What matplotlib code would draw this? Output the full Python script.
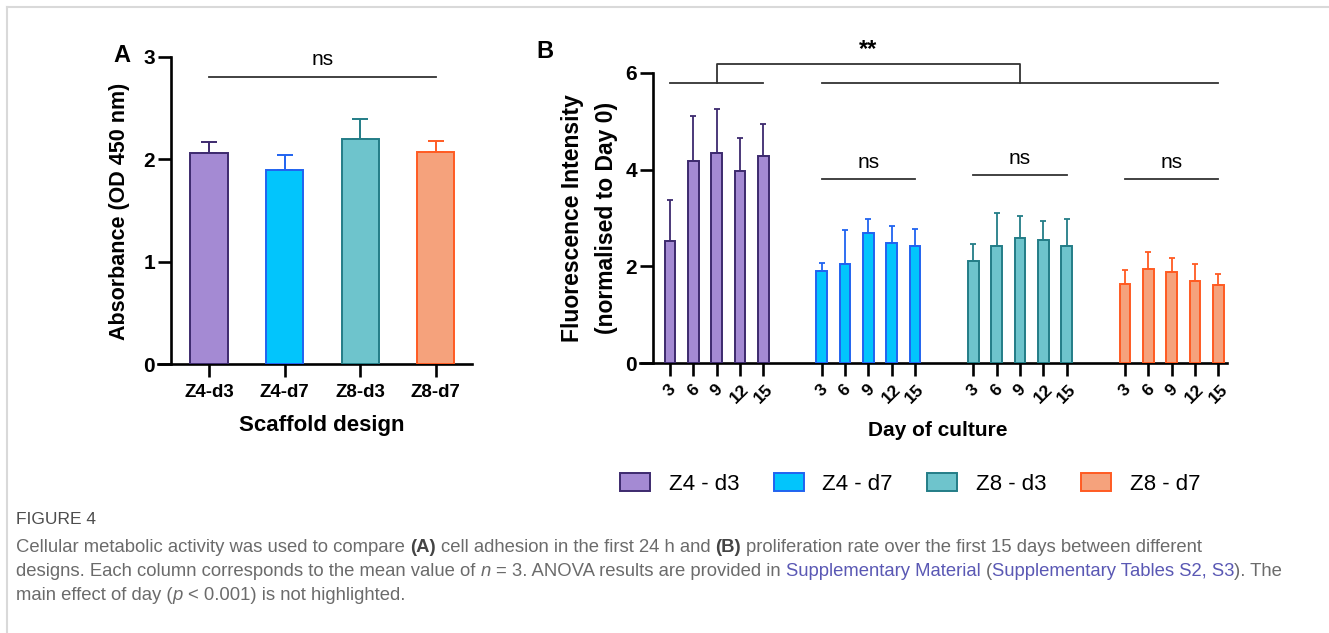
import matplotlib.pyplot as plt
from matplotlib.lines import Line2D

# ---- data ----
designs = ['Z4-d3', 'Z4-d7', 'Z8-d3', 'Z8-d7']
legend_labels = ['Z4 - d3', 'Z4 - d7', 'Z8 - d3', 'Z8 - d7']
fill_colors = ['#a48ad3', '#02c5fc', '#6ec4cc', '#f5a27c']
edge_colors = ['#3d2a6e', '#2063f0', '#237d87', '#ff5b22']

# panel A: absorbance (OD 450 nm)
adh_mean = [2.06, 1.90, 2.20, 2.07]
adh_sd = [0.11, 0.14, 0.19, 0.11]

# panel B: fluorescence intensity by day
days = [3, 6, 9, 12, 15]
z4d3_mean = [2.53, 4.17, 4.34, 3.97, 4.28]
z4d3_sd = [0.84, 0.93, 0.91, 0.68, 0.66]
z4d7_mean = [1.91, 2.05, 2.69, 2.48, 2.43]
z4d7_sd = [0.17, 0.70, 0.28, 0.36, 0.34]
z8d3_mean = [2.12, 2.42, 2.58, 2.55, 2.42]
z8d3_sd = [0.35, 0.68, 0.47, 0.38, 0.55]
z8d7_mean = [1.64, 1.95, 1.89, 1.69, 1.61]
z8d7_sd = [0.29, 0.34, 0.29, 0.36, 0.24]
prolif_means = [z4d3_mean, z4d7_mean, z8d3_mean, z8d7_mean]
prolif_sds = [z4d3_sd, z4d7_sd, z8d3_sd, z8d7_sd]

W, H = 1329, 633
fig = plt.figure(figsize=(W / 100, H / 100), dpi=100)
plt.rcParams['font.family'] = ['Liberation Sans', 'DejaVu Sans']


def fx(x):
    return x / W


def fy(y):
    return 1 - y / H


def px_axes(l, t, r, b):
    return fig.add_axes([fx(l), fy(b), (r - l) / W, (b - t) / H])


def style_axes(ax, yspine_x):
    for s in ['top', 'right']:
        ax.spines[s].set_visible(False)
    ax.spines['left'].set_position(('data', yspine_x))
    ax.spines['left'].set_linewidth(1.9)
    ax.spines['bottom'].set_linewidth(1.9)
    ax.tick_params(direction='out', length=9.5, width=1.9, color='black')
    ax.tick_params(axis='y', labelsize=15, pad=2)
    for lab in ax.get_yticklabels():
        lab.set_fontweight('bold')


# ---- panel A ----
axA = px_axes(158, 57, 472, 364)
xa = list(range(len(designs)))
axA.bar(xa, adh_mean, width=0.49, color=fill_colors, edgecolor=edge_colors,
        linewidth=1.4, zorder=3)
for i in xa:
    axA.errorbar(xa[i], adh_mean[i], yerr=[[0], [adh_sd[i]]], fmt='none',
                 ecolor=edge_colors[i], elinewidth=1.4, capsize=5.5,
                 capthick=1.4, zorder=2)
axA.set_xlim(-0.675, 3.48)
axA.set_ylim(0, 3)
axA.set_yticks([0, 1, 2, 3])
axA.set_xticks(xa)
axA.set_xticklabels(designs, fontsize=13.5, fontweight='bold')
axA.tick_params(axis='x', pad=5)
style_axes(axA, -0.503)
axA.spines['left'].set_bounds(0, 3)
axA.plot([0, 3], [2.80, 2.80], color='#333333', lw=1.3, clip_on=False)
axA.text(1.5, 2.88, 'ns', ha='center', va='bottom', fontsize=15)

fig.text(fx(120), fy(211), 'Absorbance (OD 450 nm)', rotation=90,
         ha='center', va='center', fontsize=15.5, fontweight='bold')
fig.text(fx(322), fy(425), 'Scaffold design', ha='center', va='center',
         fontsize=16, fontweight='bold')
fig.text(fx(122), fy(55), 'A', ha='center', va='center', fontsize=17,
         fontweight='bold')

# ---- panel B ----
axB = px_axes(640, 72.7, 1226.7, 363.3)
gap = 6.5
handles = []
all_x = []
for g in range(4):
    xs = [g * gap + i for i in range(len(days))]
    all_x += xs
    b = axB.bar(xs, prolif_means[g], width=0.46, color=fill_colors[g],
                edgecolor=edge_colors[g], linewidth=1.4, zorder=3,
                label=legend_labels[g])
    handles.append(b)
    axB.errorbar(xs, prolif_means[g],
                 yerr=[[0] * len(days), prolif_sds[g]], fmt='none',
                 ecolor=edge_colors[g], elinewidth=1.3, capsize=2.5,
                 capthick=1.3, zorder=2)
axB.set_xlim(-1.29, 23.86)
axB.set_ylim(0, 6)
axB.set_yticks([0, 2, 4, 6])
axB.set_xticks(all_x)
axB.set_xticklabels([str(d) for d in days] * 4, rotation=45, ha='center',
                    fontsize=12.5, fontweight='bold')
axB.tick_params(axis='x', pad=4)
style_axes(axB, -0.74)
axB.spines['left'].set_bounds(0, 6)

# significance marks
lc = '#333333'
last = 3 * gap + 4
axB.plot([0, 4], [5.78, 5.78], color=lc, lw=1.3, clip_on=False)
axB.plot([gap, last], [5.78, 5.78], color=lc, lw=1.3, clip_on=False)
mid1 = 2
mid2 = (gap + last) / 2
axB.plot([mid1, mid1, mid2, mid2], [5.78, 6.18, 6.18, 5.78], color=lc,
         lw=1.3, clip_on=False)
axB.text((mid1 + mid2) / 2, 6.24, '**', ha='center', va='bottom',
         fontsize=17, fontweight='bold')
for g, yy in zip([1, 2, 3], [3.81, 3.88, 3.81]):
    x0 = g * gap
    axB.plot([x0, x0 + 4], [yy, yy], color=lc, lw=1.3, clip_on=False)
    axB.text(x0 + 2, yy + 0.15, 'ns', ha='center', va='bottom', fontsize=15)

fig.text(fx(573), fy(218), 'Fluorescence Intensity', rotation=90,
         ha='center', va='center', fontsize=16.5, fontweight='bold')
fig.text(fx(606), fy(218), '(normalised to Day 0)', rotation=90,
         ha='center', va='center', fontsize=16.5, fontweight='bold')
fig.text(fx(938), fy(430), 'Day of culture', ha='center', va='center',
         fontsize=15, fontweight='bold')
fig.text(fx(545), fy(52), 'B', ha='center', va='center', fontsize=17,
         fontweight='bold')

fig.legend(handles, legend_labels, loc='center',
           bbox_to_anchor=(fx(910), fy(484)), ncol=4, frameon=False,
           prop={'size': 16},
           handlelength=1.35, handleheight=0.85, handletextpad=0.84,
           columnspacing=1.55)

# ---- frame + caption ----
fig.add_artist(Line2D([fx(7), 1], [fy(7), fy(7)], color='#d9d9d9', lw=1.5))
fig.add_artist(Line2D([fx(7), fx(7)], [fy(7), 0], color='#d9d9d9', lw=1.5))

gray = '#6b6b6b'
link = '#5a58b4'
base = dict(fontsize=13.3, color=gray)

fig.text(fx(16), fy(524), 'FIGURE 4', va='baseline', fontsize=12.5,
         color='#4d4d4d')

r = fig.canvas.get_renderer()
t1 = fig.text(0, 0, 'x x', **base)
t2 = fig.text(0, 0, 'xx', **base)
sp = t1.get_window_extent(r).width - t2.get_window_extent(r).width
t1.remove()
t2.remove()


def put_line(x, y, parts):
    for txt, kw in parts:
        lead = len(txt) - len(txt.lstrip(' '))
        trail = len(txt) - len(txt.rstrip(' '))
        x += lead * sp
        opts = dict(base)
        opts.update(kw)
        t = fig.text(fx(x), fy(y), txt.strip(' '), va='baseline', **opts)
        x += t.get_window_extent(r).width + trail * sp


B = {'fontweight': 'bold', 'color': '#444444'}
I = {'fontstyle': 'italic'}
L = {'color': link}
put_line(16, 552, [
    ('Cellular metabolic activity was used to compare ', {}),
    ('(A)', B),
    (' cell adhesion in the first 24 h and ', {}),
    ('(B)', B),
    (' proliferation rate over the first 15 days between different', {}),
])
put_line(16, 576, [
    ('designs. Each column corresponds to the mean value of ', {}),
    ('n', I),
    (' = 3. ANOVA results are provided in ', {}),
    ('Supplementary Material', L),
    (' (', {}),
    ('Supplementary Tables S2, S3', L),
    ('). The', {}),
])
put_line(16, 600, [
    ('main effect of day (', {}),
    ('p', I),
    (' < 0.001) is not highlighted.', {}),
])

fig.savefig('out.png', dpi=100)
